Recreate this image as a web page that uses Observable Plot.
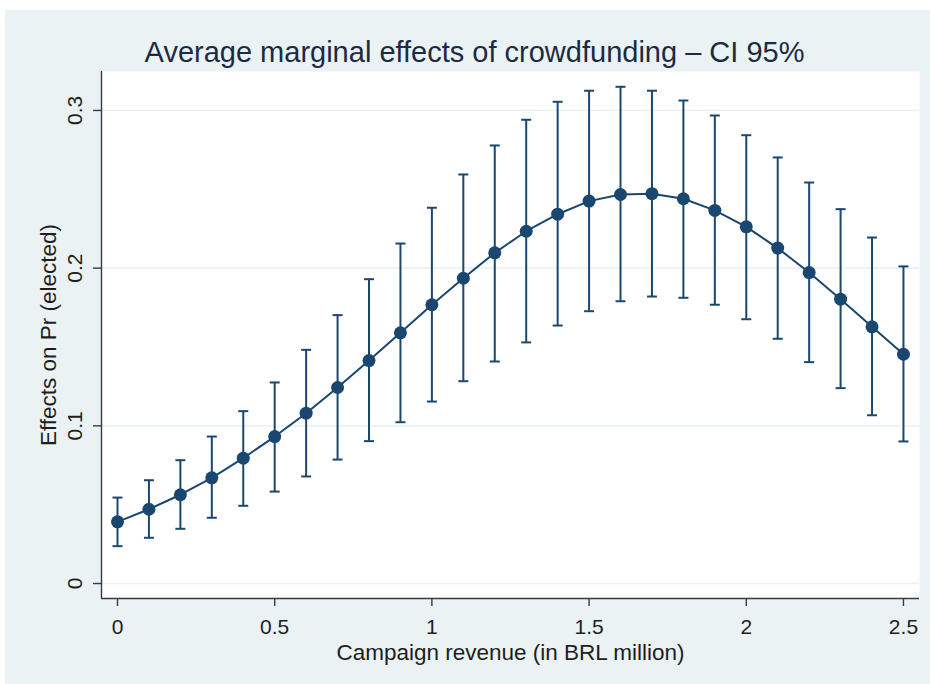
<!DOCTYPE html>
<html>
<head>
<meta charset="utf-8">
<script src="https://cdn.jsdelivr.net/npm/d3@7"></script>
<script src="https://cdn.jsdelivr.net/npm/@observablehq/plot@0.6"></script>
<style>
  html, body { margin: 0; padding: 0; background: #ffffff; }
  #fig { position: absolute; left: 5px; top: 10px; width: 925px; height: 674px; background: #eaf2f3; overflow: hidden; }
  #title { position: absolute; left: 7px; top: 25px; width: 100%; text-align: center;
           font: 29px "Liberation Sans", Arial, sans-serif; line-height: 34px; color: #1d2a44; white-space: nowrap; }
  #chart { position: absolute; left: -5px; top: 50px; }
  #chart svg { background: transparent; overflow: visible; }
</style>
</head>
<body>
<div id="fig">
  <div id="title">Average marginal effects of crowdfunding – CI 95%</div>
  <div id="chart"></div>
</div>
<script>
// Campaign revenue (BRL million) at which the marginal effect is evaluated
const revenue = [0, 0.1, 0.2, 0.3, 0.4, 0.5, 0.6, 0.7, 0.8, 0.9, 1.0, 1.1, 1.2,
                 1.3, 1.4, 1.5, 1.6, 1.7, 1.8, 1.9, 2.0, 2.1, 2.2, 2.3, 2.4, 2.5];
// Average marginal effect on Pr(elected)
const effect = [0.0391, 0.0471, 0.0563, 0.0670, 0.0795, 0.0932, 0.1080, 0.1243, 0.1414,
                0.1590, 0.1768, 0.1936, 0.2097, 0.2234, 0.2342, 0.2425, 0.2467, 0.2472,
                0.2440, 0.2366, 0.2262, 0.2127, 0.1972, 0.1803, 0.1628, 0.1454];
// 95% confidence interval bounds
const ciLow  = [0.0237, 0.0290, 0.0347, 0.0417, 0.0493, 0.0583, 0.0679, 0.0786, 0.0903,
                0.1023, 0.1154, 0.1283, 0.1408, 0.1529, 0.1636, 0.1727, 0.1790, 0.1820,
                0.1812, 0.1768, 0.1676, 0.1552, 0.1404, 0.1239, 0.1067, 0.0901];
const ciHigh = [0.0545, 0.0655, 0.0782, 0.0932, 0.1093, 0.1275, 0.1482, 0.1702, 0.1930,
                0.2156, 0.2383, 0.2594, 0.2778, 0.2941, 0.3055, 0.3125, 0.3150, 0.3125,
                0.3063, 0.2968, 0.2843, 0.2702, 0.2543, 0.2374, 0.2194, 0.2011];

const xTicks = [0, 0.5, 1, 1.5, 2, 2.5];
const xTickLabels = ["0", "0.5", "1", "1.5", "2", "2.5"];
const yTicks = [0, 0.1, 0.2, 0.3];
const yTickLabels = ["0", "0.1", "0.2", "0.3"];

const xTitle = "Campaign revenue (in BRL million)";
const yTitle = "Effects on Pr (elected)";

const rows = revenue.map((x, i) => ({x, y: effect[i], lo: ciLow[i], hi: ciHigh[i]}));

const navy = "#1a476f";
const axisColor = "#3a3a3a";
const textColor = "#1e1e1e";
const font = '"Liberation Sans", Arial, sans-serif';

// horizontal cap drawn at the ends of each interval
const capSymbol = {
  draw(context, size) {
    const r = Math.sqrt(size / Math.PI);
    context.moveTo(-r, 0);
    context.lineTo(r, 0);
  }
};

const xDomain = [-0.0509, 2.551];
const yDomain = [-0.0095, 0.3247];

const chart = Plot.plot({
  width: 930,
  height: 624,
  marginTop: 11,
  marginLeft: 101,
  marginRight: 11,
  marginBottom: 86,
  style: {fontFamily: font, background: "transparent", color: textColor},
  x: {domain: xDomain},
  y: {domain: yDomain},
  marks: [
    Plot.frame({fill: "white", stroke: "none"}),
    Plot.gridY(yTicks, {stroke: "#eaf2f3", strokeOpacity: 1, strokeWidth: 1.6}),
    // axis lines
    Plot.ruleX([xDomain[0]], {stroke: axisColor, strokeWidth: 1.4}),
    Plot.ruleY([yDomain[0]], {stroke: axisColor, strokeWidth: 1.4}),
    // tick marks
    Plot.axisX(xTicks, {tickSize: 8, tickFormat: () => "", stroke: axisColor, strokeWidth: 1.4, label: null}),
    Plot.axisY(yTicks, {tickSize: 8, tickFormat: () => "", stroke: axisColor, strokeWidth: 1.4, label: null}),
    // tick labels
    Plot.text(xTicks, {x: d => d, text: (d, i) => xTickLabels[i], frameAnchor: "bottom", dy: 29,
      lineAnchor: "middle", textAnchor: "middle", fontSize: 21, fill: textColor}),
    Plot.text(yTicks, {y: d => d, text: (d, i) => yTickLabels[i], frameAnchor: "left", dx: -26,
      rotate: -90, lineAnchor: "middle", textAnchor: "middle", fontSize: 21, fill: textColor}),
    // axis titles
    Plot.text([xTitle], {frameAnchor: "bottom", dy: 54, lineAnchor: "middle", textAnchor: "middle",
      fontSize: 22.5, fill: textColor}),
    Plot.text([yTitle], {frameAnchor: "left", dx: -53, rotate: -90, lineAnchor: "middle", textAnchor: "middle",
      fontSize: 22.5, fill: textColor}),
    // confidence intervals
    Plot.ruleX(rows, {x: "x", y1: "lo", y2: "hi", stroke: navy, strokeWidth: 2}),
    Plot.dot(rows, {x: "x", y: "hi", symbol: capSymbol, r: 5, stroke: navy, strokeWidth: 2, fill: "none"}),
    Plot.dot(rows, {x: "x", y: "lo", symbol: capSymbol, r: 5, stroke: navy, strokeWidth: 2, fill: "none"}),
    // marginal effects
    Plot.line(rows, {x: "x", y: "y", stroke: navy, strokeWidth: 2}),
    Plot.dot(rows, {x: "x", y: "y", r: 6.5, fill: navy, stroke: "none"})
  ]
});

document.getElementById("chart").appendChild(chart);
</script>
</body>
</html>
